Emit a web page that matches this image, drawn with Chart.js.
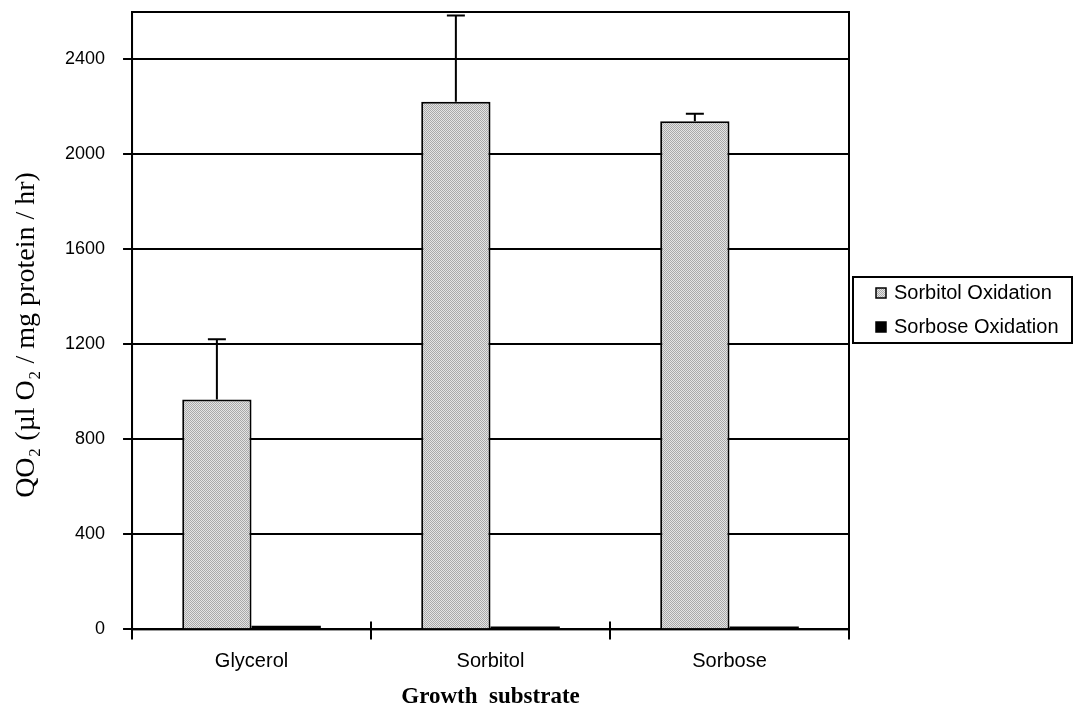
<!DOCTYPE html>
<html>
<head>
<meta charset="utf-8">
<script src="https://cdn.jsdelivr.net/npm/chart.js@4/dist/chart.umd.min.js"></script>
<style>
  html, body { margin: 0; padding: 0; background: #fff; }
  #wrap { width: 1076px; height: 712px; }
</style>
</head>
<body>
<div id="wrap"><canvas id="barChart" width="1076" height="712"></canvas></div>
<script>
// data
const substrates = ['Glycerol', 'Sorbitol', 'Sorbose'];
const sorbitolOx = [968, 2222, 2140];
const sorbitolErrTop = [1222, 2585, 2172];
const sorboseOx = [15, 12, 12];
const yTicks = [0, 400, 800, 1200, 1600, 2000, 2400];
const yTitle = 'QO\u2082 (\u00b5l O\u2082 / mg protein / hr)';

// stippled grey fill like the printed bars
function stipple() {
  const c = document.createElement('canvas');
  c.width = 2; c.height = 2;
  const g = c.getContext('2d');
  g.fillStyle = '#e4e4e4';
  g.fillRect(0, 0, 2, 2);
  g.fillStyle = '#a9a9a9';
  g.fillRect(0, 0, 1, 1);
  g.fillRect(1, 1, 1, 1);
  return g.createPattern(c, 'repeat');
}
const greyFill = stipple();

// error bars for the sorbitol series
const errorBars = {
  id: 'errorBars',
  afterDatasetsDraw(chart) {
    const ctx = chart.ctx;
    const meta = chart.getDatasetMeta(0);
    const y = chart.scales.y;
    ctx.save();
    ctx.strokeStyle = '#000';
    ctx.lineWidth = 2;
    meta.data.forEach((bar, i) => {
      const top = y.getPixelForValue(sorbitolErrTop[i]);
      ctx.beginPath();
      ctx.moveTo(bar.x, bar.y);
      ctx.lineTo(bar.x, top);
      ctx.moveTo(bar.x - 9, top);
      ctx.lineTo(bar.x + 9, top);
      ctx.stroke();
    });
    ctx.restore();
  }
};

// plot frame, x ticks crossing the axis, y title and a boxed legend
const frames = {
  id: 'frames',
  afterDraw(chart) {
    const ctx = chart.ctx;
    const a = chart.chartArea;
    const x = chart.scales.x;
    ctx.save();
    ctx.strokeStyle = '#000';
    ctx.lineWidth = 2;
    ctx.strokeRect(a.left, a.top, a.right - a.left, a.bottom - a.top);
    ctx.beginPath();
    for (let i = 0; i <= substrates.length; i++) {
      const px = Math.round(x.getPixelForValue(i - 0.5));
      ctx.moveTo(px, a.bottom);
      ctx.lineTo(px, a.bottom - 8);
    }
    ctx.stroke();

    // y axis title, sitting a little below the middle as in the print
    ctx.save();
    ctx.translate(27, 335);
    ctx.rotate(-Math.PI / 2);
    ctx.font = '28px "Liberation Serif"';
    ctx.textAlign = 'center';
    ctx.textBaseline = 'middle';
    ctx.fillStyle = '#000';
    ctx.fillText(yTitle, 0, 0);
    ctx.restore();

    // legend
    const lx = 853, ly = 277, lw = 219, lh = 66;
    ctx.strokeRect(lx, ly, lw, lh);
    ctx.font = '20px "Liberation Sans"';
    ctx.textBaseline = 'middle';
    chart.data.datasets.forEach((ds, i) => {
      const cy = ly + 16 + i * 34;
      ctx.fillStyle = ds.backgroundColor;
      ctx.fillRect(876, cy - 5, 10, 10);
      ctx.lineWidth = 1.5;
      ctx.strokeRect(876, cy - 5, 10, 10);
      ctx.fillStyle = '#000';
      ctx.fillText(ds.label, 894, cy);
    });
    ctx.restore();
  }
};

const config = {
  type: 'bar',
  data: {
    labels: substrates,
    datasets: [{
      label: 'Sorbitol Oxidation',
      data: sorbitolOx,
      backgroundColor: greyFill,
      borderColor: '#000',
      borderWidth: 2,
      borderSkipped: 'bottom',
      barPercentage: 1,
      categoryPercentage: 0.58
    }, {
      label: 'Sorbose Oxidation',
      data: sorboseOx,
      backgroundColor: '#000',
      borderWidth: 0,
      barPercentage: 1,
      categoryPercentage: 0.58
    }]
  },
  options: {
    responsive: false,
    animation: false,
    layout: { padding: { top: 12, right: 227, bottom: 1, left: 47 } },
    plugins: {
      legend: { display: false },
      tooltip: { enabled: false }
    },
    scales: {
      x: {
        grid: { offset: true, drawOnChartArea: false, color: '#000', lineWidth: 2, tickLength: 10 },
        border: { color: '#000', width: 2 },
        ticks: { color: '#000', font: { family: 'Liberation Sans', size: 20 }, padding: 10 },
        title: {
          display: true,
          text: 'Growth  substrate',
          color: '#000',
          font: { family: 'Liberation Serif', size: 23, weight: 'bold' },
          padding: { top: 0, bottom: 0 }
        }
      },
      y: {
        min: 0,
        max: 2600,
        afterBuildTicks(scale) {
          scale.ticks = yTicks.map(v => ({ value: v }));
        },
        afterFit(scale) {
          scale.paddingTop = 0;
          scale.paddingBottom = 0;
        },
        grid: { color: '#000', lineWidth: 2, tickLength: 9 },
        border: { color: '#000', width: 2 },
        ticks: {
          color: '#000',
          font: { family: 'Liberation Sans', size: 18 },
          padding: 18,
          callback: v => String(v)
        }
      }
    }
  },
  plugins: [errorBars, frames]
};

const myChart = new Chart(document.getElementById('barChart'), config);
</script>
</body>
</html>
